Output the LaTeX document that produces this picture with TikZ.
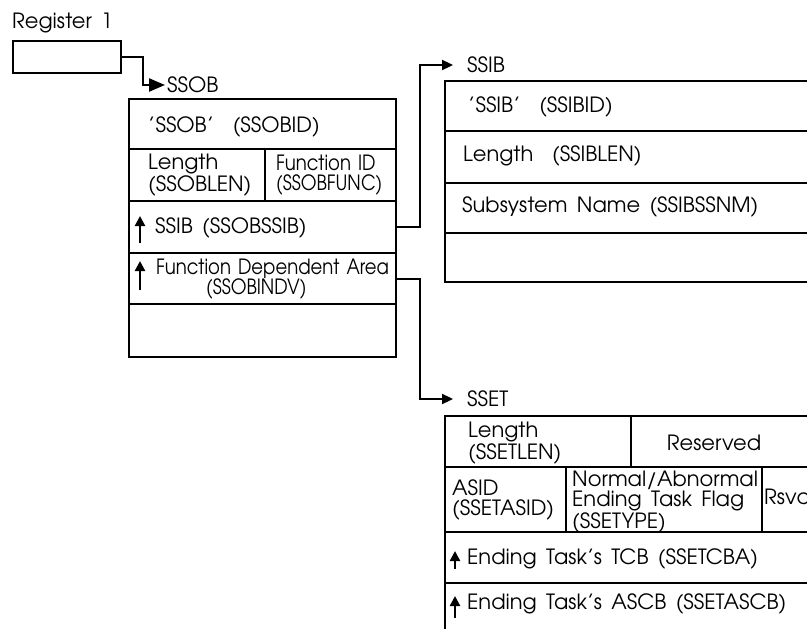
\documentclass[tikz,border=0pt]{standalone}
\usepackage{fontspec}
\setmainfont{texgyreadventor}[Extension=.otf, UprightFont=*-regular, WordSpace=1.6]
\newfontfamily\condfont{texgyreadventor}[Extension=.otf, UprightFont=*-regular, WordSpace=1.4, FakeStretch=0.86]
\usetikzlibrary{arrows.meta, calc}

\begin{document}
\begin{tikzpicture}[x=1pt, y=-1pt,
    cell/.style={draw, line width=2.3pt, anchor=north west, inner sep=0pt},
    txt/.style={anchor=west, inner sep=0pt, align=left,
        font=\fontsize{21}{20}\selectfont},
    ptr/.style={line width=2.3pt, -{Triangle[length=11pt, width=10pt]}},
    uparr/.style={line width=2.3pt, -{Triangle[length=10pt, width=10pt]}}]

    % Page size
    \useasboundingbox (0,0) rectangle (807,629);
    \clip (0,0) rectangle (807,629);

    % Register 1
    \node[txt] (regname) at (12,23) {Register 1};
    \node[cell, minimum width=108, minimum height=32] (reg) at (12,40) {};

    % SSOB
    \node[txt, inner xsep=2pt] (ssob) at (165,85) {SSOB};
    \node[cell, minimum width=267, minimum height=50] (ssobid) at (128,98) {};
    \node[cell, minimum width=136, minimum height=52] (ssoblen) at (128,148) {};
    \node[cell, minimum width=131, minimum height=52] (ssobfunc) at (264,148) {};
    \node[cell, minimum width=267, minimum height=52] (ssobssib) at (128,200) {};
    \node[cell, minimum width=267, minimum height=51] (ssobindv) at (128,252) {};
    \node[cell, minimum width=267, minimum height=53] (ssobrest) at (128,303) {};

    \node[txt] (t-ssobid) at (148,127) {'SSOB' \ (SSOBID)};
    \node[txt] (t-ssoblen) at (148,175) {Length\\(SSOBLEN)};
    \node[txt, font=\fontsize{21}{20}\condfont] (t-ssobfunc) at (276,175) {Function ID\\(SSOBFUNC)};
    \node[txt] (t-ssobssib) at (155,228) {SSIB (SSOBSSIB)};
    \node[txt, font=\fontsize{21}{20}\condfont] (t-ssobindv) at (156,279) {Function Dependent Area\\\hspace*{50pt}(SSOBINDV)};
    \draw[uparr] (140,243) -- (140,216);
    \draw[uparr] (140,290) -- (140,261);

    % SSIB
    \node[txt, inner xsep=14pt] (ssib) at (453,65) {SSIB};
    \node[cell, minimum width=430, minimum height=50] (ssibid) at (444,80) {};
    \node[cell, minimum width=430, minimum height=52] (ssiblen) at (444,130) {};
    \node[cell, minimum width=430, minimum height=50] (ssibssnm) at (444,182) {};
    \node[cell, minimum width=430, minimum height=49] (ssibrest) at (444,232) {};

    \node[txt] (t-ssibid) at (468,107) {'SSIB' \ (SSIBID)};
    \node[txt] (t-ssiblen) at (463,156) {Length \ (SSIBLEN)};
    \node[txt] (t-ssibssnm) at (462,207) {Subsystem Name (SSIBSSNM)};

    % SSET
    \node[txt, inner xsep=14pt] (sset) at (453,399) {SSET};
    \node[cell, minimum width=186, minimum height=51] (ssetlen) at (444,415) {};
    \node[cell, minimum width=244, minimum height=51] (ssetrsv) at (630,415) {};
    \node[cell, minimum width=121, minimum height=65] (ssetasid) at (444,466) {};
    \node[cell, minimum width=196, minimum height=65] (ssettype) at (565,466) {};
    \node[cell, minimum width=113, minimum height=65] (ssetrsvd) at (761,466) {};
    \node[cell, minimum width=430, minimum height=51] (ssetcba) at (444,531) {};
    \node[cell, minimum width=430, minimum height=60] (ssetascb) at (444,582) {};

    \node[txt] (t-ssetlen) at (468,443) {Length\\(SSETLEN)};
    \node[txt, anchor=center] (t-ssetrsv) at (714,443) {Reserved};
    \node[txt] (t-ssetasid) at (452,500) {ASID\\(SSETASID)};
    \node[txt] (t-ssettype) at (572,502) {Normal/Abnormal\\Ending Task Flag\\(SSETYPE)};
    \node[txt] (t-ssetrsvd) at (764,497) {Rsvd};
    \node[txt] (t-ssetcba) at (467,559) {Ending Task's TCB (SSETCBA)};
    \node[txt] (t-ssetascb) at (467,604) {Ending Task's ASCB (SSETASCB)};
    \draw[uparr] (455,569) -- (455,551);
    \draw[uparr] (455,618) -- (455,596);

    % Pointers
    \draw[line width=2.3pt, -{Triangle[length=16pt, width=13pt]}] (reg.east) -- ++(21,0) |- (ssob.west);
    \draw[ptr] (ssobssib.east) -- ++(23,0) |- (ssib.west);
    \draw[ptr] (ssobindv.east) -- ++(23,0) |- (sset.west);
\end{tikzpicture}
\end{document}
